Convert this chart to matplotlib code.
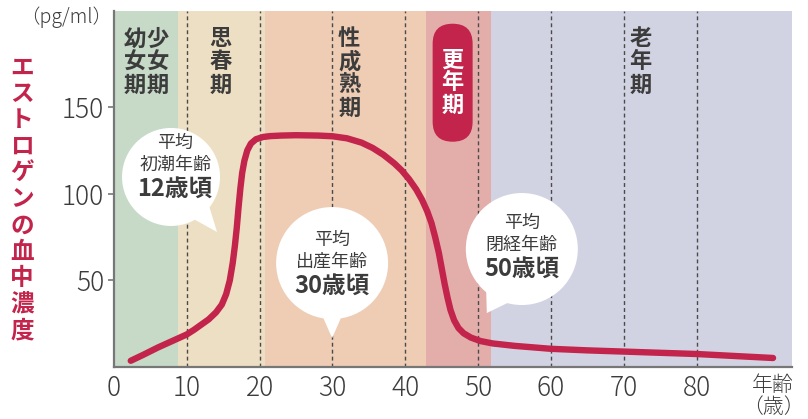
import matplotlib
matplotlib.use("Agg")
import numpy as np
import matplotlib.pyplot as plt
import matplotlib.transforms as mtransforms
from matplotlib.patches import Circle, Polygon, FancyBboxPatch

plt.rcParams['font.family'] = ['Noto Sans CJK JP', 'DejaVu Sans']

# --- data ---
age = [2.3, 4, 6, 8, 10, 11, 12, 13, 14, 14.8, 15.4, 15.9, 16.3, 16.6, 16.85,
       17.1, 17.35, 17.6, 17.9, 18.3, 18.8, 19.5, 20.5, 21.5, 23, 25, 28, 30,
       32, 34, 35.5, 37, 38.5, 39.5, 40.5, 41.5, 42.3, 43, 43.6, 44.1, 44.6,
       45.0, 45.4, 45.8, 46.2, 46.7, 47.3, 48, 49, 50.3, 52, 55, 60, 65, 70,
       75, 80, 85, 90.5]
estrogen = [3.6, 7.0, 11.2, 15.0, 18.8, 21.5, 24.5, 27.5, 31.5, 36, 42, 50, 60,
            70, 80, 92, 103, 112, 119, 125, 129, 131.5, 132.8, 133.3, 133.6,
            133.8, 133.6, 133.2, 132, 129.5, 126.5, 122.5, 117.5, 113.5, 108.5,
            102.5, 96.5, 90, 83, 75, 66, 57, 48, 40, 33, 27, 22.5, 19.5, 17,
            15, 13.6, 12.2, 10.5, 9.6, 8.9, 8.2, 7.5, 6.4, 5.2]

stage_edges = [0, 8.75, 20.75, 42.9, 51.7, 93.1]
stage_colors = ['#c6dac7', '#eddfc3', '#eecdb4', '#e3aeaa', '#d2d3e2']
stage_labels = ['幼\n女\n期', '少\n女\n期', '思\n春\n期', '性\n成\n熟\n期', '老\n年\n期']
stage_label_x = [2.9, 6.0, 14.6, 32.3, 72.3]
decades = [10, 20, 30, 40, 50, 60, 70, 80]

RED = '#c2244b'
TXT = '#3c3c3c'

fig = plt.figure(figsize=(8.08, 4.19), dpi=100)
ax = fig.add_axes([114/808, 52/419, 678/808, 356/419])
ax.set_xlim(0, 93.1)
ax.set_ylim(0, 205.5)

# life-stage bands
for i, c in enumerate(stage_colors):
    ax.axvspan(stage_edges[i], stage_edges[i + 1], color=c, lw=0, zorder=0)

for d in decades:
    ax.axvline(d, color='#4a4a4a', lw=1, linestyle=(0, (2.8, 2.2)), zorder=1)

ax.plot(age, estrogen, color=RED, lw=4.6, solid_capstyle='round',
        solid_joinstyle='round', zorder=3)

for x, s in zip(stage_label_x, stage_labels):
    ax.text(x, 196, s, ha='center', va='top', fontsize=16, fontweight='bold',
            color=TXT, linespacing=1.0, zorder=4)


def anchor(x, y):
    return fig.dpi_scale_trans + mtransforms.ScaledTranslation(x, y, ax.transData)


# 更年期 pill
t = anchor(46.5, 164.1)
ax.add_patch(FancyBboxPatch((-0.20, -0.59), 0.40, 1.18,
                            boxstyle='round,pad=0,rounding_size=0.2',
                            fc=RED, ec='none', transform=t, zorder=4))
ax.text(0, 0, '更\n年\n期', transform=t, ha='center', va='center', fontsize=16,
        fontweight='bold', color='white', linespacing=1.0, zorder=5)

# speech bubbles: center (data), radius (in), tail base angles, tail tip (in), text, text offsets
bubbles = [
    (7.83, 109.7, 0.49, (-62, -37), (0.46, -0.55), ['平均', '初潮年齢', '12歳頃'], (0.34, 0.12, -0.13), 0.04),
    (29.95, 60.0, 0.56, (-100, -80), (0.0, -0.75), ['平均', '出産年齢', '30歳頃'], (0.23, 0.01, -0.24), 0.0),
    (56.0, 68.1, 0.56, (-131, -103), (-0.35, -0.64), ['平均', '閉経年齢', '50歳頃'], (0.26, 0.04, -0.21), 0.0),
]
for cx, cy, r, (a1, a2), tip, lines, offs, dx in bubbles:
    t = anchor(cx, cy)
    ax.add_patch(Circle((0, 0), r, fc='white', ec='none', transform=t, zorder=5))
    p1 = (0.97 * r * np.cos(np.radians(a1)), 0.97 * r * np.sin(np.radians(a1)))
    p2 = (0.97 * r * np.cos(np.radians(a2)), 0.97 * r * np.sin(np.radians(a2)))
    ax.add_patch(Polygon([p1, p2, tip], closed=True, fc='white', ec='none',
                         transform=t, zorder=5))
    ax.text(dx, offs[0], lines[0], transform=t, ha='center', va='center',
            fontsize=13, color=TXT, zorder=6)
    ax.text(dx, offs[1], lines[1], transform=t, ha='center', va='center',
            fontsize=13, color=TXT, zorder=6)
    ax.text(dx, offs[2], lines[2], transform=t, ha='center', va='center',
            fontsize=17, fontweight='bold', color=TXT, zorder=6)

# axes styling
for s in ['top', 'right']:
    ax.spines[s].set_visible(False)
for s in ['left', 'bottom']:
    ax.spines[s].set_color('#777777')
    ax.spines[s].set_linewidth(1.6)
    ax.spines[s].set_zorder(7)

ax.set_yticks([50, 100, 150])
ax.set_xticks([0] + decades)
ax.tick_params(axis='y', length=4, width=1.2, color='#777777', pad=3,
               labelsize=19, labelcolor=TXT)
ax.tick_params(axis='x', length=0, pad=5, labelsize=19, labelcolor=TXT)
for lb in ax.get_xticklabels() + ax.get_yticklabels():
    lb.set_fontweight('light')

ax.text(90.5, -4, '年齢\n（歳）', ha='center', va='top', fontsize=15,
        color=TXT, linespacing=1.0, fontweight='light')

fig.text(66/808, 1 - 17/419, '（pg/ml）', ha='center', va='center',
         fontsize=14, color=TXT, fontweight='light')
fig.text(22/808, 1 - 199/419, '\n'.join('エストロゲンの血中濃度'), ha='center',
         va='center', fontsize=17, fontweight='bold', color=RED, linespacing=1.12)

fig.savefig('out.png', dpi=100)
